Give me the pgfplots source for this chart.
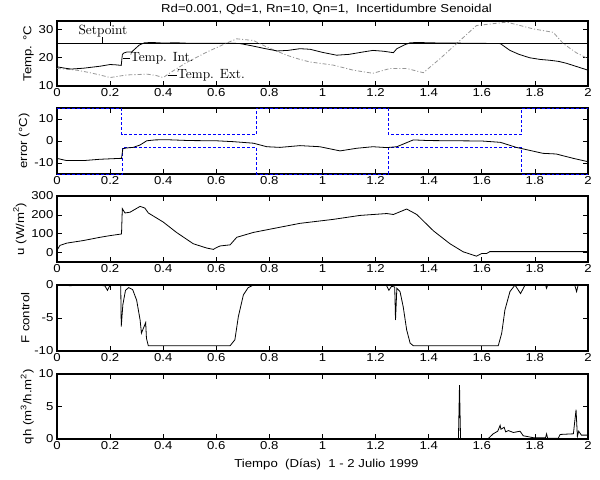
\documentclass[border=0pt]{standalone}
\usepackage{fontspec}
\setsansfont[FakeStretch=1.15]{Liberation Sans}
\usepackage{pgfplots}
\pgfplotsset{compat=1.18}
\definecolor{extgray}{RGB}{150,150,150}
\definecolor{bnd}{RGB}{0,0,255}
\newcommand\tickfont{\sffamily\fontsize{8.6}{10}\selectfont}
\newcommand\notefont{\rmfamily\fontsize{10}{12}\selectfont}
\pgfplotsset{
  mpl/.style={
    scale only axis, width=398.25pt,
    xmin=0, xmax=2,
    xtick={0,0.2,0.4,0.6,0.8,1,1.2,1.4,1.6,1.8,2},
    tick align=inside, major tick length=3.5pt,
    tick style={black, line width=0.5pt},
    axis line style={line width=0.8pt},
    ticklabel style={font=\tickfont},
    /pgf/number format/assume math mode=true,
    xticklabel style={inner sep=1.5pt},
    yticklabel style={inner sep=2.5pt},
    label style={font=\tickfont},
    ylabel style={inner sep=1pt},
    every axis plot/.append style={line width=0.6pt},
    every axis title shift=0pt,
  }
}
\begin{document}
\begin{tikzpicture}
\useasboundingbox (-42.75pt,0pt) rectangle (407.25pt,-359.25pt);

% Panel 1: temperatures
\begin{axis}[mpl, at={(0pt,-15.75pt)}, anchor=north west, height=48.75pt,
  ymin=10, ymax=33, ytick={10,20,30},
  ylabel={Temp. °C},
  title={Rd=0.001, Qd=1, Rn=10, Qn=1,\ \ Incertidumbre Senoidal},
  title style={font=\tickfont, at={(axis description cs:0.5,1)}, anchor=base, yshift=6.4pt, xshift=3pt, inner sep=0pt},
]
\addplot[black, line width=0.5pt] coordinates {(0,25)(2,25)};
\addplot[extgray, dash pattern=on 3pt off 1.5pt on 0.8pt off 1.5pt] coordinates {
(0,16.2)(0.074,15.6)(0.12,14.8)(0.162,13.9)(0.2,13.0)(0.262,13.9)(0.338,14.2)(0.37,13.8)(0.4,13.0)
(0.438,15.4)(0.488,18.3)(0.564,22.0)(0.639,25.2)(0.677,26.7)(0.74,26.1)(0.79,23.8)(0.865,20.9)
(0.915,19.4)(0.953,18.5)(1.04,17.4)(1.116,15.6)(1.19,14.5)(1.254,16.2)(1.317,16.2)(1.38,14.7)
(1.443,19.7)(1.518,26.1)(1.58,31.4)(1.694,32.6)(1.794,30.2)(1.869,29.0)(1.907,25.0)(1.957,21.7)(2,19.7)};
\addplot[black] coordinates {
(0,16.8)(0.03,16.3)(0.054,16.0)(0.1,16.3)(0.162,17.0)(0.2,17.6)(0.22,17.5)(0.242,17.3)(0.246,21.0)
(0.25,21.6)(0.262,22.0)(0.281,22.0)(0.29,22.8)(0.31,24.5)(0.33,25.3)(0.36,25.4)(0.4,25.2)(0.45,25.3)
(0.5,25.1)(0.55,25.1)(0.6,25.1)(0.67,25.1)(0.69,25.0)(0.73,24.3)(0.78,23.3)(0.83,22.4)(0.87,22.6)
(0.915,23.2)(0.953,23.0)(1.0,21.9)(1.053,20.9)(1.1,21.2)(1.15,22.0)(1.19,22.6)(1.23,22.3)(1.267,21.8)
(1.28,23.2)(1.31,24.6)(1.33,25.3)(1.36,25.4)(1.4,25.3)(1.45,25.2)(1.505,25.2)(1.55,25.1)(1.6,25.1)
(1.67,25.0)(1.706,22.6)(1.74,21.2)(1.78,20.0)(1.82,19.4)(1.857,19.1)(1.89,18.7)(1.92,18.0)(1.96,16.8)(2,15.6)};
\node[font=\notefont, anchor=base west, inner sep=0pt] at (axis cs:0.08,28.2) {Setpoint};
\draw[black, line width=0.5pt] (axis cs:0.17,27.3) -- (axis cs:0.17,25);
\draw[black, line width=0.5pt] (axis cs:0.25,19.8) -- (axis cs:0.275,19.8);
\node[font=\notefont, anchor=west, inner sep=0pt] at (axis cs:0.275,20.0) {Temp. Int.};
\draw[black, line width=0.5pt] (axis cs:0.418,13.9) -- (axis cs:0.452,13.9);
\node[font=\notefont, anchor=west, inner sep=0pt] at (axis cs:0.452,13.7) {Temp. Ext.};
\end{axis}

% Panel 2: error
\begin{axis}[mpl, at={(0pt,-81pt)}, anchor=north west, height=49.5pt,
  ymin=-15, ymax=15, ytick={-10,0,10},
  ylabel={error (°C)},
]
\addplot[bnd, dash pattern=on 2.2pt off 1.5pt, line width=0.6pt] coordinates {
(0,15)(0.243,15)(0.243,2.8)(0.751,2.8)(0.751,15)(1.248,15)(1.248,2.8)(1.75,2.8)(1.75,15)(2,15)};
\addplot[bnd, dash pattern=on 2.2pt off 1.5pt, line width=0.6pt] coordinates {
(0,-15)(0.247,-15)(0.247,-2.8)(0.752,-2.8)(0.752,-15)(1.248,-15)(1.248,-2.8)(1.75,-2.8)(1.75,-15)(2,-15)};
\addplot[black] coordinates {
(0,-7.9)(0.036,-8.9)(0.1,-8.9)(0.162,-8.3)(0.237,-7.9)(0.243,-7.9)(0.248,-3.5)(0.26,-3.2)(0.287,-2.9)
(0.313,-1.8)(0.338,0.1)(0.37,0.5)(0.41,0.6)(0.5,0.2)(0.6,0.1)(0.664,-0.3)(0.74,-1.0)(0.79,-2.6)
(0.84,-2.9)(0.915,-2.1)(0.99,-2.6)(1.066,-4.5)(1.129,-3.3)(1.19,-2.6)(1.242,-3.0)(1.28,-2.6)
(1.342,0.5)(1.4,0.2)(1.5,0.1)(1.6,0)(1.67,-0.6)(1.73,-2.9)(1.83,-5.6)(1.88,-5.9)(1.945,-7.9)(2,-9.4)};
\end{axis}

% Panel 3: u
\begin{axis}[mpl, at={(0pt,-147pt)}, anchor=north west, height=49.5pt,
  ymin=-50, ymax=300, ytick={0,100,200,300},
  ylabel={u (W/m\textsuperscript{2})},
]
\addplot[black] coordinates {
(0,12)(0.011,38)(0.036,50)(0.1,64)(0.162,81)(0.2,90)(0.24,98)(0.243,98)(0.246,233)(0.256,210)
(0.275,214)(0.313,245)(0.331,236)(0.344,210)(0.4,162)(0.45,107)(0.513,47)(0.564,24)(0.589,17)
(0.6,26)(0.614,35)(0.652,41)(0.677,81)(0.74,107)(0.915,155)(1.04,176)(1.141,197)(1.242,207)
(1.267,202)(1.317,231)(1.355,202)(1.418,115)(1.48,47)(1.53,4)(1.58,-19)(1.6,-5)(1.618,-5)(1.63,5)(2,5)};
\end{axis}

% Panel 4: F control
\begin{axis}[mpl, at={(0pt,-213.75pt)}, anchor=north west, height=49.5pt,
  ymin=-10, ymax=0, ytick={-10,-5,0},
  ylabel={F control},
]
\addplot[black] coordinates {
(0,0)(0.05,-0.1)(0.1,0)(0.18,-0.1)(0.19,-0.8)(0.2,0)(0.24,0)(0.242,-6.3)(0.248,-3)(0.258,-0.8)
(0.27,-0.4)(0.285,-0.7)(0.3,-2.3)(0.313,-5.3)(0.318,-7.3)(0.325,-6.6)(0.334,-5.7)(0.337,-8.1)
(0.344,-9.2)(0.5,-9.2)(0.652,-9.2)(0.67,-8.3)(0.683,-4.8)(0.702,-1.5)(0.72,-0.4)(0.74,0)(1.24,0)
(1.25,-0.8)(1.26,-0.2)(1.272,-0.3)(1.275,-5.3)(1.28,-0.5)(1.292,-1.0)(1.304,-3.3)(1.317,-6.8)
(1.33,-8.8)(1.342,-9.2)(1.662,-9.2)(1.675,-7.3)(1.687,-3.8)(1.706,-1.0)(1.725,0)(1.746,-1.3)
(1.763,0)(1.84,0)(1.844,-0.5)(1.848,0)(1.95,0)(1.957,-1.0)(1.963,0)(2,0)};
\end{axis}

% Panel 5: qh
\begin{axis}[mpl, at={(0pt,-280.5pt)}, anchor=north west, height=48.75pt,
  ymin=0, ymax=10, ytick={0,5,10},
  ylabel={qh (m\textsuperscript{3}/h.m\textsuperscript{2})},
  xlabel={Tiempo\ \ (Días)\ \ 1 - 2 Julio 1999},
  xlabel style={at={(axis description cs:0.5,0)}, anchor=base, yshift=-21pt, xshift=3pt, inner sep=0pt},
]
\addplot[black] coordinates {
(0,0)(1.512,0)(1.516,8.3)(1.52,0)(1.62,0)(1.625,0.1)(1.643,0.8)(1.66,1.2)(1.669,2.1)(1.672,1.5)
(1.684,1.8)(1.69,1.1)(1.7,1.3)(1.719,1.0)(1.744,1.2)(1.756,0.5)(1.794,0.2)(1.84,0.2)(1.844,0.8)
(1.848,0.1)(1.888,0.1)(1.895,0.7)(1.945,0.8)(1.955,4.5)(1.96,0.4)(1.965,1.2)(1.975,0.6)(2,0.6)};
\end{axis}
\end{tikzpicture}
\end{document}
